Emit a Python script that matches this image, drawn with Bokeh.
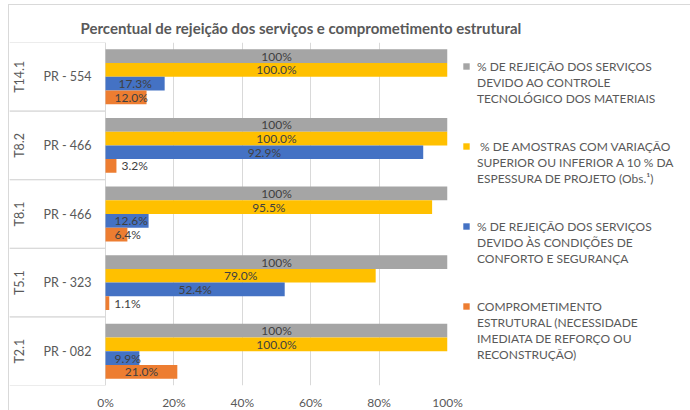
from bokeh.plotting import figure
from bokeh.models import (ColumnDataSource, FactorRange, Range1d, FixedTicker, Legend, LegendItem,
                          Title)
from bokeh.transform import dodge
from bokeh.core.properties import value
from bokeh.embed import file_html
from bokeh.resources import INLINE

# ---------------- data ----------------
groups = ["T14.1", "T8.2", "T8.1", "T5.1", "T2.1"]
subgroups = ["PR - 554", "PR - 466", "PR - 466", "PR - 323", "PR - 082"]
controle_tecnologico = [100, 100, 100, 100, 100]
variacao_espessura = [100.0, 100.0, 95.5, 79.0, 100.0]
conforto_seguranca = [17.3, 92.9, 12.6, 52.4, 9.9]
comprometimento = [12.0, 3.2, 6.4, 1.1, 21.0]
x_ticks = [0, 20, 40, 60, 80, 100]
x_tick_labels = ["0%", "20%", "40%", "60%", "80%", "100%"]
legend_labels = [
    "% DE REJEIÇÃO DOS SERVIÇOS\nDEVIDO AO CONTROLE\nTECNOLÓGICO DOS MATERIAIS",
    " % DE AMOSTRAS COM VARIAÇÃO\nSUPERIOR OU INFERIOR A 10 % DA\nESPESSURA DE PROJETO (Obs.¹)",
    "% DE REJEIÇÃO DOS SERVIÇOS\nDEVIDO ÀS CONDIÇÕES DE\nCONFORTO E SEGURANÇA",
    "COMPROMETIMENTO\nESTRUTURAL (NECESSIDADE\nIMEDIATA DE REFORÇO OU\nRECONSTRUÇÃO)",
]
title_text = "Percentual de rejeição dos serviços e comprometimento estrutural"

FONT = "Lato"
colors = ["#A5A5A5", "#FFC000", "#4472C4", "#ED7D31"]
offsets = [0.3, 0.1, -0.1, -0.3]
series = [controle_tecnologico, variacao_espessura, conforto_seguranca, comprometimento]
fmts = ["{:.0f}%", "{:.1f}%", "{:.1f}%", "{:.1f}%"]
XLEFT = -28.07

p = figure(frame_width=438, frame_height=343, output_backend="svg", toolbar_location=None,
           y_range=FactorRange(factors=list(reversed(groups)), range_padding=0),
           x_range=Range1d(XLEFT, 100),
           min_border_left=0, min_border_right=243, min_border_top=37, min_border_bottom=25)
p.styles = {"margin-left": "8px", "margin-top": "4px",
            "border-left": "1px solid #D9D9D9", "border-top": "1px solid #D9D9D9"}
p.outline_line_color = None
p.background_fill_color = "white"
p.border_fill_color = "white"

p.title = Title(text=title_text, text_font=FONT, text_font_size="15px", text_color="#595959",
                text_font_style="bold", align="left", offset=71, standoff=12)

# grid
p.ygrid.visible = False
p.xgrid.ticker = FixedTicker(ticks=x_ticks)
p.xgrid.bounds = (0, 100)
p.xgrid.grid_line_color = "#D9D9D9"

# axes
p.yaxis.visible = False
p.xaxis.ticker = FixedTicker(ticks=x_ticks)
p.xaxis.major_label_overrides = {t: l for t, l in zip(x_ticks, x_tick_labels)}
p.xaxis.axis_line_color = None
p.xaxis.major_tick_line_color = None
p.xaxis.minor_tick_line_color = None
p.xaxis.major_label_standoff = 3
p.xaxis.major_label_text_font = FONT
p.xaxis.major_label_text_font_size = "12px"
p.xaxis.major_label_text_color = "#595959"

# category boxes
src_cat = ColumnDataSource(dict(cat=groups, sub=subgroups, x0=[XLEFT] * 5, x1=[0] * 5))
for off in (0.5, -0.5):
    p.segment(x0="x0", x1="x1", y0=dodge("cat", off, range=p.y_range),
              y1=dodge("cat", off, range=p.y_range), source=src_cat,
              line_color="#D9D9D9", line_width=1)
p.text(x=0, y="cat", text="sub", source=src_cat, x_offset=-38, text_align="center",
       text_baseline="middle", text_font=value(FONT), text_font_size="12.5px", text_color="#595959")
p.text(x=0, y="cat", text="cat", source=src_cat, x_offset=-86, angle=1.5708, text_align="center",
       text_baseline="middle", text_font=value(FONT), text_font_size="12.5px", text_color="#595959")

# bars + labels
items = []
for i, (vals, col, off, fmt, lab) in enumerate(zip(series, colors, offsets, fmts, legend_labels)):
    lx, lal, lxo = [], [], []
    for v in vals:
        if v < 5:
            lx.append(v); lal.append("left"); lxo.append(5)
        elif v < 15:
            lx.append(0); lal.append("left"); lxo.append(9)
        else:
            lx.append(v / 2); lal.append("center"); lxo.append(0)
    src = ColumnDataSource(dict(cat=groups, v=vals, lx=lx, lal=lal, lxo=lxo,
                                txt=[fmt.format(v) for v in vals]))
    r = p.hbar(y=dodge("cat", off, range=p.y_range), left=0, right="v", height=0.2,
               source=src, fill_color=col, line_color=None)
    p.text(x="lx", y=dodge("cat", off, range=p.y_range), text="txt", text_align="lal",
           x_offset="lxo", text_baseline="middle", source=src, text_font=value(FONT),
           text_font_size="12px", text_color="#404040")
    if i > 0:
        items.append(LegendItem(label=" ", renderers=[]))
        items.append(LegendItem(label=" ", renderers=[]))
    lines = lab.split("\n")
    items.append(LegendItem(label=lines[0], renderers=[r]))
    for ln in lines[1:]:
        items.append(LegendItem(label=ln, renderers=[]))

legend = Legend(items=items, location=(15, 23), padding=0, margin=0, spacing=0,
                glyph_width=8, glyph_height=8, label_height=16, label_standoff=7,
                label_text_font=FONT, label_text_font_size="12px", label_text_color="#595959",
                border_line_color=None, background_fill_alpha=0)
p.add_layout(legend, "right")

open("out.html", "w").write(file_html(p, INLINE))
